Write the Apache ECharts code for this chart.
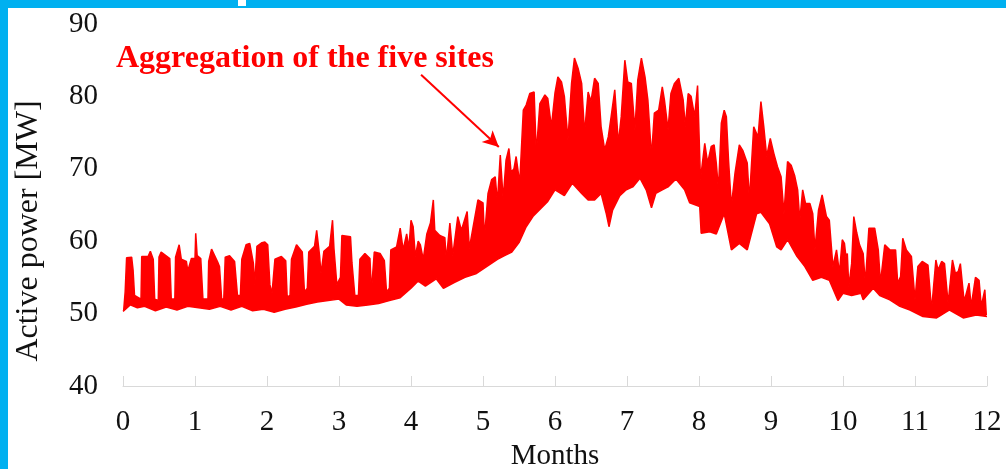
<!DOCTYPE html>
<html>
<head>
<meta charset="utf-8">
<script src="https://cdn.jsdelivr.net/npm/echarts@6/dist/echarts.min.js"></script>
<style>
html,body{margin:0;padding:0;background:#fff;}
#c{width:1006px;height:469px;}
</style>
</head>
<body>
<div id="c"></div>
<script>
// X tick labels (months) and Y tick values
const monthTicks = [0,1,2,3,4,5,6,7,8,9,10,11,12];
const powerTicks = [40,50,60,70,80,90];

// Upper envelope of the aggregated active power [month, MW]
const upperEnvelope = [
[0.01,50.5],[0.03,53],[0.05,57.7],[0.12,57.8],[0.14,56],[0.16,52.5],[0.25,52],[0.26,57.9],[0.35,57.9],[0.38,58.6],[0.42,57.5],[0.44,52],[0.49,51.8],[0.50,57.8],[0.53,58.5],[0.65,57.6],[0.67,52],[0.72,52],[0.73,57.8],[0.78,59.5],[0.81,57.5],[0.88,57.2],[0.90,55.9],[0.95,57.6],[1.00,57.6],[1.01,61.1],[1.03,58],[1.08,57.6],[1.11,52],[1.18,52],[1.19,57.2],[1.23,58.9],[1.32,57],[1.34,56.5],[1.37,52],[1.40,52],[1.42,57.8],[1.48,58],[1.55,57.2],[1.59,52.5],[1.63,52.5],[1.65,57.5],[1.71,59.5],[1.76,59.7],[1.81,57],[1.83,54],[1.86,59.3],[1.93,59.8],
[1.97,59.9],[2.01,59.5],[2.04,54],[2.07,52.8],[2.11,57.5],[2.20,57.9],[2.26,57.3],[2.28,52.3],[2.32,52.5],[2.34,57.5],[2.41,59.5],[2.49,58.5],[2.52,53],[2.56,53.5],[2.58,58.5],[2.66,59.3],[2.69,61.5],[2.73,58],[2.75,55.5],[2.79,58.6],[2.87,59.3],[2.91,62.9],[2.93,59],[2.97,54],[3.02,55],[3.04,60.8],[3.16,60.6],[3.18,57],[3.22,52.5],[3.27,52.5],[3.29,57.5],[3.36,58.3],[3.43,57.6],[3.45,53],[3.47,53],[3.49,58.5],[3.57,58.3],[3.63,57.3],[3.66,53],[3.70,53.5],[3.72,58.8],[3.80,59.2],[3.85,61.8],[3.89,58.8],[3.94,61],[3.97,59],
[4.00,62.9],[4.03,62],[4.06,57.9],[4.10,60],[4.13,59.5],[4.17,57.5],[4.22,61],[4.27,62.5],[4.31,65.7],[4.33,61.5],[4.40,60.8],[4.47,60.5],[4.49,57.4],[4.54,62.5],[4.58,58],[4.65,63.4],[4.70,61.5],[4.78,64.1],[4.81,59],[4.86,61.8],[4.93,65.7],[5.00,65.3],[5.02,60.5],[5.07,66.6],[5.12,68.5],[5.17,68.9],[5.20,65.3],[5.24,71.9],[5.28,65.8],[5.32,71.2],[5.36,72.8],[5.39,69.5],[5.43,70],[5.46,71.7],[5.51,68],[5.56,78.1],[5.60,78.8],[5.65,80.4],[5.71,80.6],[5.74,72.1],[5.79,79],[5.86,80.2],[5.90,79.7],[5.95,75.8],[6.00,80.5],
[6.04,82.7],[6.09,82.0],[6.13,80.0],[6.18,74.0],[6.23,81.8],[6.27,85.3],[6.32,83.9],[6.37,81.8],[6.41,74.9],[6.46,80.6],[6.50,79.3],[6.55,82.5],[6.60,81.8],[6.64,75.8],[6.69,72.6],[6.74,74.4],[6.78,77.2],[6.83,80.9],[6.88,73.5],[6.92,77.2],[6.97,85.0],[7.01,82.0],[7.06,81.8],[7.11,75.4],[7.15,82.3],[7.20,85.3],[7.25,82.7],[7.29,79.5],[7.34,71.7],[7.38,77.7],[7.44,78.1],[7.49,81.3],[7.52,79.5],[7.57,75.4],[7.61,80.4],[7.66,81.8],[7.72,82.5],[7.78,79.5],[7.81,75.8],[7.85,80.4],[7.89,80.0],[7.94,77.2],[7.98,81.5],
[8.02,68.5],[8.08,73.5],[8.12,70.8],[8.17,73.1],[8.21,73.3],[8.24,70.8],[8.27,67.1],[8.31,76.3],[8.35,78.1],[8.38,77.2],[8.41,71.2],[8.45,64.8],[8.50,69.4],[8.56,73.3],[8.61,72.5],[8.67,70.8],[8.70,65.7],[8.76,75.8],[8.82,74.4],[8.86,79.3],[8.90,75.8],[8.94,71.7],[8.99,74.2],[9.04,72.1],[9.09,70.3],[9.14,68.9],[9.18,63.8],[9.23,71.0],[9.28,70.5],[9.33,69.0],[9.37,67.1],[9.40,62.9],[9.44,67.1],[9.48,65.2],[9.54,65.2],[9.58,63.8],[9.61,58.8],[9.66,64.3],[9.71,66.4],[9.77,63.4],[9.81,62.9],[9.86,56.5],[9.91,58.8],[9.95,55.6],[9.99,60.2],
[10.02,59.7],[10.04,57.9],[10.06,58.3],[10.08,53.7],[10.12,56.9],[10.15,63.4],[10.19,61.2],[10.23,59.5],[10.28,58.3],[10.31,54.2],[10.36,61.8],[10.44,61.8],[10.49,58.8],[10.52,54.2],[10.58,59.5],[10.65,58.8],[10.73,58.8],[10.76,54.2],[10.80,55.1],[10.83,60.4],[10.88,58.8],[10.95,57.9],[11.00,51.9],[11.04,56.5],[11.10,57.2],[11.18,56.7],[11.23,50.5],[11.29,57.4],[11.32,56.0],[11.37,57.2],[11.41,56.9],[11.46,51.4],[11.52,57.4],[11.56,55.6],[11.60,55.8],[11.63,56.9],[11.68,51.9],[11.70,52.3],[11.75,54.2],[11.78,51.0],[11.84,55.0],[11.89,54.6],[11.92,51.0],[11.97,53.3],[11.99,49.8]
];

// Lower envelope (night-time minima) [month, MW]
const lowerEnvelope = [
[0.00,50.3],[0.10,51.2],[0.20,50.8],[0.30,51.0],[0.45,50.4],[0.60,50.9],[0.75,50.5],[0.90,51.0],[1.05,50.8],[1.20,50.6],[1.35,51.0],[1.50,50.5],[1.65,51.0],[1.80,50.4],[1.95,50.6],[2.10,50.2],[2.25,50.6],[2.40,50.9],[2.55,51.3],[2.70,51.6],[2.85,51.8],[3.00,52.0],[3.10,51.2],[3.25,51.0],[3.40,51.2],[3.55,51.4],[3.70,51.8],[3.85,52.2],
[4.00,53.5],[4.10,54.5],[4.20,53.8],[4.35,54.8],[4.45,53.5],[4.60,54.3],[4.75,55.0],[4.90,55.5],[5.05,56.5],[5.20,57.5],[5.30,58.0],[5.40,58.5],[5.50,59.8],[5.60,62.0],[5.70,63.5],[5.80,64.5],[5.90,65.5],
[6.00,67.1],[6.13,66.3],[6.24,68.0],[6.37,66.6],[6.46,65.7],[6.55,65.7],[6.64,66.6],[6.71,63.9],[6.75,62.0],[6.80,64.3],[6.90,66.3],[6.99,67.1],[7.08,67.5],[7.18,68.7],[7.27,67.0],[7.34,64.6],[7.40,66.6],[7.49,67.1],[7.57,67.5],[7.68,68.6],[7.80,67.1],[7.87,65.3],
[8.01,64.8],[8.03,61.1],[8.15,61.3],[8.24,61.0],[8.35,63.8],[8.45,58.8],[8.56,59.7],[8.67,58.8],[8.80,63.8],[8.86,64.0],[8.98,62.4],[9.08,59.2],[9.14,58.8],[9.23,60.2],[9.36,57.9],[9.47,56.5],[9.58,54.6],[9.70,55.0],[9.81,54.6],[9.93,51.8],
[10.00,52.8],[10.12,52.5],[10.25,52.8],[10.28,51.9],[10.42,53.5],[10.51,52.5],[10.65,51.9],[10.79,51.0],[10.93,50.5],[11.11,49.6],[11.30,49.4],[11.48,50.5],[11.67,49.4],[11.85,49.8],[12.00,49.6]
];

// Annotation arrow end points [month, MW]
const arrowFrom = [4.14, 83.0];
const arrowTo = [5.22, 73.0];

const serif = "'Liberation Serif', 'Times New Roman', serif";
const chart = echarts.init(document.getElementById('c'), null, {renderer:'canvas'});
chart.setOption({
  animation: false,
  backgroundColor: '#ffffff',
  title: {
    text: 'Aggregation of the five sites',
    left: 116, top: 43, padding: 0,
    textStyle: {color:'#ff0000', fontFamily: serif, fontSize: 32, fontWeight:'bold'}
  },
  graphic: [
    {type:'rect', left:0, top:0, shape:{width:1006, height:8}, style:{fill:'#00b0f0'}, z:100},
    {type:'rect', left:0, top:0, shape:{width:8, height:469}, style:{fill:'#00b0f0'}, z:100},
    {type:'rect', left:238, top:0, shape:{width:8, height:6}, style:{fill:'#ffffff'}, z:101}
  ],
  grid: {left:123, right:19, top:24, bottom:83, containLabel:false, outerBoundsMode:'none'},
  xAxis: {
    type:'value', min: monthTicks[0], max: monthTicks[monthTicks.length-1], interval: 1,
    name: 'Months', nameLocation:'middle', nameGap: 49,
    nameTextStyle: {color:'#111', fontFamily: serif, fontSize: 29},
    axisLine: {show:true, lineStyle:{color:'#d9d9d9', width:1}},
    axisTick: {show:true, inside:true, length:10, lineStyle:{color:'#d9d9d9'}},
    axisLabel: {color:'#111', fontFamily: serif, fontSize: 29, margin: 22},
    splitLine: {show:false},
    z: 10
  },
  yAxis: {
    type:'value', min: powerTicks[0], max: powerTicks[powerTicks.length-1], interval: 10,
    name: 'Active power [MW]', nameLocation:'middle', nameGap: 78,
    nameTextStyle: {color:'#111', fontFamily: serif, fontSize: 32, padding:[0,52,0,0]},
    axisLine: {show:false}, axisTick: {show:false},
    axisLabel: {color:'#111', fontFamily: serif, fontSize: 29, margin: 25},
    splitLine: {show:false}
  },
  series: [
    {
      type:'line', data: upperEnvelope, showSymbol:false, symbol:'none',
      lineStyle:{color:'#ff0000', width:1.5},
      areaStyle:{color:'#ff0000', opacity:1, origin:'start'},
      z:2,
      markLine: {
        silent:true, symbol:['none','arrow'], symbolSize:[12,16],
        label:{show:false},
        lineStyle:{color:'#ff0000', width:2, type:'solid'},
        data:[[{coord: arrowFrom}, {coord: arrowTo}]]
      }
    },
    {
      type:'line', data: lowerEnvelope, showSymbol:false, symbol:'none',
      lineStyle:{color:'#ff0000', width:1.5},
      areaStyle:{color:'#ffffff', opacity:1, origin:'start'},
      z:3
    }
  ]
});
</script>
</body>
</html>
